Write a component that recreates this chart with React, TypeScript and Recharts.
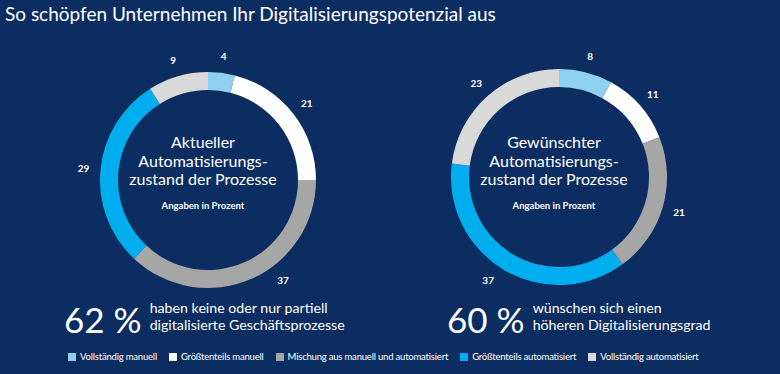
import React from "react";
import { PieChart, Pie, Cell, Legend } from "recharts";

const categories = [
  "Vollständig manuell",
  "Größtenteils manuell",
  "Mischung aus manuell und automatisiert",
  "Größtenteils automatisiert",
  "Vollständig automatisiert",
];
const currentValues = [4, 21, 37, 29, 9];
const desiredValues = [8, 11, 21, 37, 23];

const COLORS = ["#8ed0ee", "#ffffff", "#a6a6a6", "#00aeef", "#d9d9d9"];
const BG = "#0c2d61";
const FONT = "Lato, 'Open Sans', sans-serif";

const currentData = categories.map((name, i) => ({ name, value: currentValues[i] }));
const desiredData = categories.map((name, i) => ({ name, value: desiredValues[i] }));

const RAD = Math.PI / 180;
const LABEL_MAX_Y = 280; // keep bottom labels clear of the stat text

function renderLabel(props: any) {
  const { cx, cy, midAngle, outerRadius, value } = props;
  const r = outerRadius + 17;
  let x = cx + r * Math.cos(-midAngle * RAD);
  let y = cy + r * Math.sin(-midAngle * RAD);
  if (y > LABEL_MAX_Y) {
    const dy = LABEL_MAX_Y - cy;
    const dx = Math.sqrt(r * r - dy * dy);
    x = x >= cx ? cx + dx : cx - dx;
    y = LABEL_MAX_Y;
  }
  return (
    <text
      x={x}
      y={y}
      fill="#ffffff"
      fontSize={10}
      fontWeight={700}
      fontFamily={FONT}
      textAnchor="middle"
      dominantBaseline="central"
    >
      {value}
    </text>
  );
}

function LegendContent(props: any) {
  const seen = new Set<string>();
  const items = (props.payload || [])
    .filter((p: any) => {
      if (seen.has(p.value)) return false;
      seen.add(p.value);
      return true;
    })
    .sort((a: any, b: any) => categories.indexOf(a.value) - categories.indexOf(b.value));
  return (
    <div style={{ display: "flex", alignItems: "center", gap: 12 }}>
      {items.map((p: any) => (
        <div key={p.value} style={{ display: "flex", alignItems: "center" }}>
          <span style={{ width: 8, height: 8, background: p.color, marginRight: 4, display: "inline-block" }} />
          <span style={{ color: "#ffffff", fontSize: 9.5, fontFamily: FONT, letterSpacing: "-0.2px" }}>{p.value}</span>
        </div>
      ))}
    </div>
  );
}

function CenterText({ x, top, title }: { x: number; top: number; title: string }) {
  return (
    <div
      style={{
        position: "absolute",
        left: x - 90,
        top,
        width: 180,
        textAlign: "center",
        color: "#ffffff",
        fontFamily: FONT,
      }}
    >
      <div style={{ fontSize: 16, lineHeight: "18.5px" }}>
        {title}
        <br />
        Automatisierungs-
        <br />
        zustand der Prozesse
      </div>
      <div style={{ fontSize: 9.5, fontWeight: 700, marginTop: 11 }}>Angaben in Prozent</div>
    </div>
  );
}

function BigStat({ left, pct, lines }: { left: number; pct: string; lines: string[] }) {
  return (
    <div style={{ position: "absolute", left, top: 297, display: "flex", alignItems: "center", color: "#fff", fontFamily: FONT }}>
      <span style={{ fontSize: 35, lineHeight: "44px" }}>{pct}</span>
      <span style={{ fontSize: 14.2, lineHeight: "17px", marginLeft: 8, marginTop: -6 }}>
        {lines[0]}
        <br />
        {lines[1]}
      </span>
    </div>
  );
}

export default function App() {
  return (
    <div style={{ position: "relative", width: 780, height: 374, background: BG, overflow: "hidden", fontFamily: FONT }}>
      <style>{"body{margin:0}"}</style>
      <div style={{ position: "absolute", left: 5, top: 2, color: "#fff", fontSize: 19, fontFamily: FONT }}>
        So schöpfen Unternehmen Ihr Digitalisierungspotenzial aus
      </div>
      <div style={{ position: "absolute", left: 0, top: 0 }}>
        <PieChart width={780} height={374}>
          <Pie
            data={currentData}
            dataKey="value"
            nameKey="name"
            cx={203}
            cy={175}
            innerRadius={90}
            outerRadius={108}
            startAngle={90}
            endAngle={-270}
            stroke="none"
            label={renderLabel}
            labelLine={false}
            isAnimationActive={false}
          >
            {currentData.map((d, i) => (
              <Cell key={d.name} fill={COLORS[i]} />
            ))}
          </Pie>
          <Pie
            data={desiredData}
            dataKey="value"
            nameKey="name"
            cx={554}
            cy={172}
            innerRadius={90}
            outerRadius={108}
            startAngle={90}
            endAngle={-270}
            stroke="none"
            label={renderLabel}
            labelLine={false}
            isAnimationActive={false}
            legendType="none"
          >
            {desiredData.map((d, i) => (
              <Cell key={d.name} fill={COLORS[i]} />
            ))}
          </Pie>
          <Legend
            content={LegendContent}
            wrapperStyle={{ position: "absolute", left: 68, top: 351, width: "auto" }}
          />
        </PieChart>
      </div>
      <CenterText x={203} top={133} title="Aktueller" />
      <CenterText x={554} top={133} title="Gewünschter" />
      <BigStat left={64} pct="62 %" lines={["haben keine oder nur partiell", "digitalisierte Geschäftsprozesse"]} />
      <BigStat left={447} pct="60 %" lines={["wünschen sich einen", "höheren Digitalisierungsgrad"]} />
    </div>
  );
}
